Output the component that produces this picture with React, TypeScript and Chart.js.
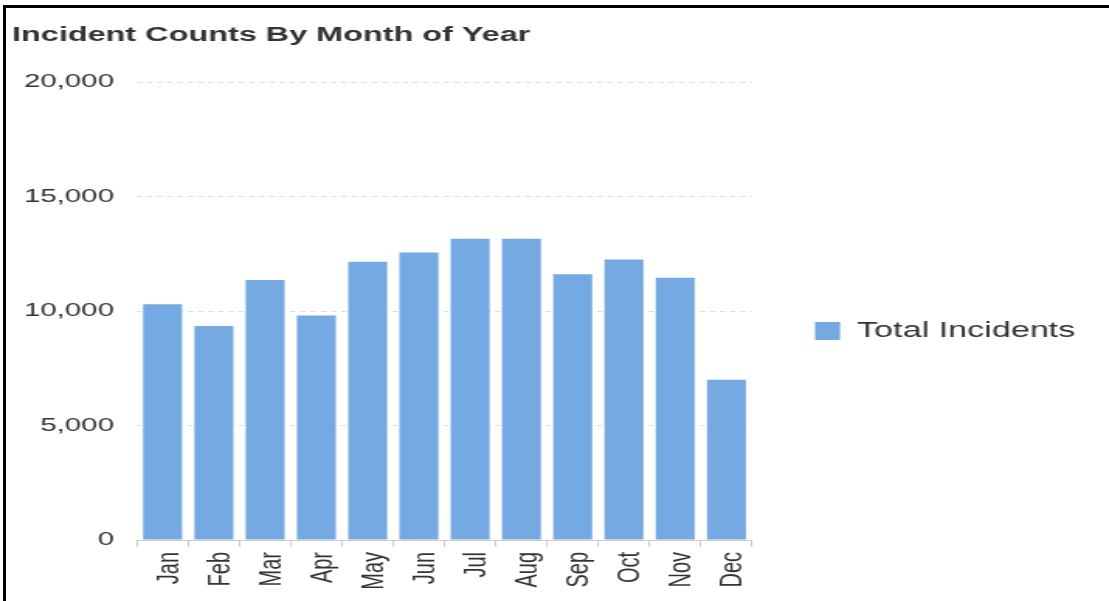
import React, { useEffect, useRef } from 'react';
import { Chart, registerables } from 'chart.js';

Chart.register(...registerables);

// ---- data ----
const titleText = 'Incident Counts By Month of Year';
const seriesLabel = 'Total Incidents';
const months = ['Jan', 'Feb', 'Mar', 'Apr', 'May', 'Jun', 'Jul', 'Aug', 'Sep', 'Oct', 'Nov', 'Dec'];
const totalIncidents = [10300, 9350, 11350, 9800, 12150, 12550, 13150, 13150, 11600, 12250, 11450, 7000];
const yMin = 0;
const yMax = 20000;
const yStep = 5000;

// ---- layout (internal canvas width is stretched horizontally to the page width) ----
const PAGE_W = 1109;
const PAGE_H = 601;
const CANVAS_W = 715;
const FONT = "'Liberation Sans', Arial, Helvetica, sans-serif";
const BAR_COLOR = '#74a9e1';

export default function App() {
  const canvasRef = useRef<HTMLCanvasElement | null>(null);

  useEffect(() => {
    const canvas = canvasRef.current;
    if (!canvas) return;
    const chart = new Chart(canvas, {
      type: 'bar',
      data: {
        labels: months,
        datasets: [
          {
            label: seriesLabel,
            data: totalIncidents,
            backgroundColor: BAR_COLOR,
            borderWidth: 0,
            barPercentage: 0.76,
            categoryPercentage: 1.0,
          },
        ],
      },
      options: {
        animation: false,
        responsive: false,
        devicePixelRatio: 1,
        layout: { padding: { left: 7.7, right: 12.6, top: 0, bottom: 0 } },
        plugins: {
          title: {
            display: true,
            text: titleText,
            align: 'start',
            color: '#333333',
            font: { family: FONT, size: 20.9, weight: 'bold', lineHeight: 1.2 },
            padding: { top: 22.5, bottom: 34.42 },
          },
          legend: {
            display: true,
            position: 'right',
            fullSize: false,
            align: 'center',
            maxWidth: 217.5,
            title: { display: true, text: '', font: { size: 12, lineHeight: 1.2 }, padding: { top: 12.8, bottom: 12.8 } },
            labels: {
              color: '#333333',
              font: { family: FONT, size: 22 },
              boxWidth: 16.1,
              boxHeight: 18,
              padding: 40.6,
            },
          },
          tooltip: { enabled: false },
        },
        scales: {
          x: {
            offset: true,
            grid: {
              display: true,
              offset: true,
              drawOnChartArea: false,
              drawTicks: true,
              tickLength: 7,
              color: '#cccccc',
            },
            border: { display: true, color: '#cccccc', width: 1 },
            ticks: {
              color: '#333333',
              font: { family: FONT, size: 20 },
              minRotation: 90,
              maxRotation: 90,
              autoSkip: false,
              padding: 5,
              labelOffset: 4.5,
            },
            afterFit: (scale: any) => {
              scale.height = 61;
            },
          },
          y: {
            min: yMin,
            max: yMax,
            grid: {
              color: '#dddddd',
              drawTicks: false,
              lineWidth: 1,
            },
            border: { display: false, dash: [3.4, 3.2] },
            ticks: {
              stepSize: yStep,
              color: '#333333',
              font: { family: FONT, size: 19 },
              padding: 14.8,
              callback: (v: any) => Number(v).toLocaleString('en-US'),
            },
            afterFit: (scale: any) => {
              scale.width = 80.6;
            },
          },
        },
      },
    } as any);
    return () => {
      chart.destroy();
    };
  }, []);

  return (
    <div style={{ position: 'relative', width: PAGE_W, height: PAGE_H, overflow: 'hidden', background: '#fff' }}>
      <style>{'html,body{margin:0;padding:0;overflow:hidden;background:#fff}'}</style>
      <canvas
        ref={canvasRef}
        width={CANVAS_W}
        height={PAGE_H}
        style={{ position: 'absolute', left: 0, top: 0, width: PAGE_W + 'px', height: PAGE_H + 'px', display: 'block' }}
      />
      <div
        style={{
          position: 'absolute',
          left: 3,
          top: 5,
          width: PAGE_W - 3,
          height: PAGE_H - 5,
          borderLeft: '3px solid #000',
          borderTop: '3px solid #000',
          boxSizing: 'border-box',
          pointerEvents: 'none',
        }}
      />
    </div>
  );
}
